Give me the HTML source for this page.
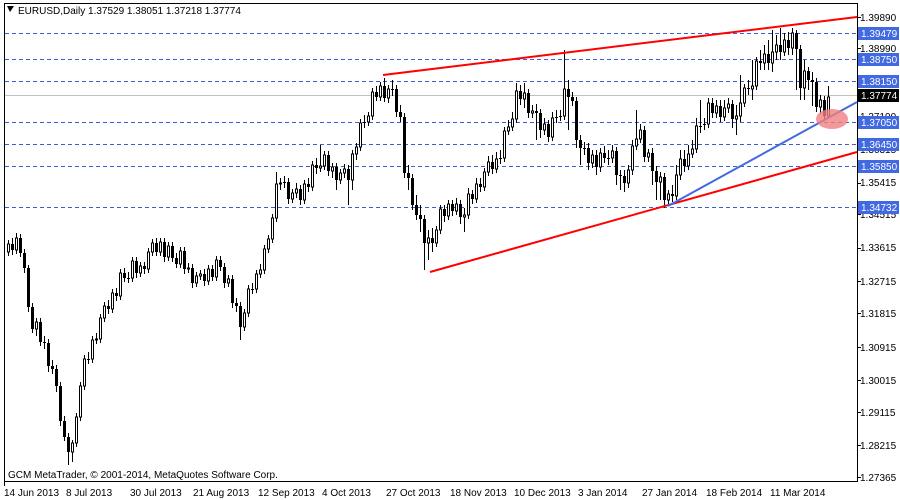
<!DOCTYPE html>
<html><head><meta charset="utf-8"><style>
html,body{margin:0;padding:0;background:#fff;}
svg{display:block;font-family:"Liberation Sans",Tahoma,sans-serif;}
</style></head><body>
<svg width="900" height="500" xmlns="http://www.w3.org/2000/svg">
<rect x="0" y="0" width="900" height="500" fill="#fff"/>
<rect x="4.5" y="3.5" width="853" height="478" fill="none" stroke="#000" stroke-width="1"/>
<g stroke="#3a5fd9" stroke-width="1" stroke-dasharray="4,3">
<line x1="5" x2="857" y1="33.5" y2="33.5"/>
<line x1="5" x2="857" y1="59.5" y2="59.5"/>
<line x1="5" x2="857" y1="81.5" y2="81.5"/>
<line x1="5" x2="857" y1="122.5" y2="122.5"/>
<line x1="5" x2="857" y1="144.5" y2="144.5"/>
<line x1="5" x2="857" y1="166.5" y2="166.5"/>
<line x1="5" x2="857" y1="207.5" y2="207.5"/>
</g>
<line x1="5" x2="857" y1="95.5" y2="95.5" stroke="#c0c0c0"/>
<path stroke="#000" stroke-width="1" fill="none" d="M8.5 240V256M12.5 238V255M16.5 233V254M20.5 234V257M24.5 249V273M28.5 265V312M32.5 303V333M36.5 318V336M40.5 318V346M44.5 336V349M48.5 339V372M52.5 360V374M56.5 365V392M60.5 382V426M64.5 416V441M68.5 433V465M72.5 440V462M76.5 413V447M80.5 382V421M84.5 355V390M88.5 352V364M92.5 336V363M96.5 333V344M100.5 314V343M104.5 302V322M108.5 300V314M112.5 289V313M116.5 288V301M120.5 269V300M124.5 268V282M128.5 272V283M132.5 257V282M136.5 257V278M140.5 262V277M144.5 262V274M148.5 248V273M152.5 239V256M156.5 238V256M160.5 238V256M164.5 238V262M168.5 242V261M172.5 242V262M176.5 253V268M180.5 247V268M184.5 247V274M188.5 263V273M192.5 264V288M196.5 272V287M200.5 270V280M204.5 269V286M208.5 265V285M212.5 265V281M216.5 256V281M220.5 256V271M224.5 263V288M228.5 275V287M232.5 275V308M236.5 298V312M240.5 302V340M244.5 309V331M248.5 285V317M252.5 283V294M256.5 270V293M260.5 264V278M264.5 245V274M268.5 235V253M272.5 214V243M276.5 172V222M280.5 178V190M284.5 176V188M288.5 178V204M292.5 189V203M296.5 183V198M300.5 185V205M304.5 180V204M308.5 178V192M312.5 161V191M316.5 158V174M320.5 145V172M324.5 151V170M328.5 151V176M332.5 163V178M336.5 163V190M340.5 169V184M344.5 164V178M348.5 165V205M352.5 150V190M356.5 143V160M360.5 119V151M364.5 115V128M368.5 112V126M372.5 88V120M376.5 86V101M380.5 82V101M384.5 78V102M388.5 85V103M392.5 80V96M396.5 85V117M400.5 105V122M404.5 113V178M408.5 165V190M412.5 174V210M416.5 195V220M420.5 205V232M424.5 215V270M428.5 230V260M432.5 228V252M436.5 226V247M440.5 205V234M444.5 205V222M448.5 200V220M452.5 200V216M456.5 198V215M460.5 200V224M464.5 208V232M468.5 188V219M472.5 190V204M476.5 178V203M480.5 178V192M484.5 168V191M488.5 156V176M492.5 155V174M496.5 152V173M500.5 150V164M504.5 127V162M508.5 120V135M512.5 112V131M516.5 83V123M520.5 85V105M524.5 83V108M528.5 89V118M532.5 105V118M536.5 104V140M540.5 109V138M544.5 118V135M548.5 120V142M552.5 112V141M556.5 110V123M560.5 110V121M564.5 50V120M568.5 80V130M572.5 92V106M576.5 97V148M580.5 135V165M584.5 142V155M588.5 143V170M592.5 150V168M596.5 150V175M600.5 148V172M604.5 146V163M608.5 150V165M612.5 145V163M616.5 147V185M620.5 170V190M624.5 170V192M628.5 165V188M632.5 140V175M636.5 110V150M640.5 124V143M644.5 126V162M648.5 149V162M652.5 148V185M656.5 166V200M660.5 172V200M664.5 173V208M668.5 190V206M672.5 185V202M676.5 165V200M680.5 150V180M684.5 150V172M688.5 145V170M692.5 140V158M696.5 118V153M700.5 100V133M704.5 118V130M708.5 98V128M712.5 98V118M716.5 100V118M720.5 100V122M724.5 100V121M728.5 98V113M732.5 100V128M736.5 105V135M740.5 75V122M744.5 84V107M748.5 80V95M752.5 60V100M756.5 57V90M760.5 50V70M764.5 45V70M768.5 40V70M772.5 30V72M776.5 35V60M780.5 28V60M784.5 33V56M788.5 32V55M792.5 28V55M796.5 30V90M800.5 45V100M804.5 60V100M808.5 67V90M812.5 72V106M816.5 78V112M820.5 95V114M824.5 96V120M828.5 86V118"/>
<path fill="#000" d="M11 244h3v6h-3zM19 238h3v15h-3zM23 253h3v15h-3zM27 268h3v39h-3zM31 307h3v22h-3zM39 322h3v20h-3zM43 342h3v1h-3zM47 343h3v23h-3zM51 366h3v3h-3zM55 369h3v17h-3zM59 386h3v35h-3zM63 421h3v16h-3zM67 437h3v15h-3zM87 359h3v1h-3zM107 306h3v3h-3zM115 293h3v3h-3zM123 273h3v5h-3zM127 278h3v1h-3zM135 261h3v12h-3zM143 266h3v3h-3zM155 243h3v9h-3zM163 242h3v15h-3zM171 246h3v12h-3zM175 258h3v6h-3zM183 251h3v18h-3zM191 268h3v15h-3zM203 274h3v7h-3zM211 269h3v8h-3zM219 260h3v7h-3zM223 267h3v16h-3zM231 279h3v24h-3zM235 303h3v3h-3zM239 306h3v21h-3zM251 289h3v1h-3zM283 182h3v1h-3zM287 182h3v17h-3zM299 189h3v11h-3zM307 184h3v3h-3zM315 165h3v3h-3zM327 155h3v16h-3zM335 167h3v13h-3zM347 169h3v11h-3zM363 122h3v1h-3zM375 92h3v5h-3zM383 86h3v12h-3zM391 89h3v1h-3zM395 89h3v23h-3zM399 112h3v5h-3zM403 117h3v56h-3zM407 173h3v5h-3zM411 178h3v27h-3zM415 205h3v10h-3zM419 215h3v4h-3zM423 219h3v24h-3zM431 238h3v5h-3zM443 209h3v7h-3zM451 204h3v7h-3zM459 204h3v13h-3zM471 194h3v5h-3zM479 184h3v3h-3zM491 162h3v7h-3zM499 158h3v1h-3zM519 91h3v8h-3zM527 93h3v20h-3zM535 111h3v2h-3zM539 113h3v17h-3zM547 124h3v13h-3zM555 117h3v1h-3zM559 116h3v1h-3zM567 89h3v8h-3zM571 97h3v4h-3zM575 101h3v39h-3zM579 140h3v8h-3zM583 148h3v1h-3zM587 148h3v15h-3zM595 155h3v12h-3zM603 153h3v5h-3zM607 158h3v1h-3zM615 151h3v24h-3zM619 175h3v1h-3zM623 176h3v7h-3zM643 130h3v27h-3zM651 153h3v18h-3zM655 171h3v11h-3zM663 177h3v23h-3zM671 194h3v2h-3zM683 159h3v7h-3zM699 126h3v1h-3zM703 124h3v1h-3zM711 103h3v10h-3zM719 106h3v11h-3zM731 104h3v15h-3zM747 88h3v1h-3zM759 61h3v2h-3zM767 54h3v9h-3zM779 45h3v7h-3zM787 40h3v8h-3zM795 33h3v16h-3zM799 49h3v39h-3zM807 71h3v9h-3zM811 80h3v2h-3zM815 82h3v25h-3zM823 100h3v16h-3z"/>
<path fill="#fff" stroke="#000" stroke-width="1" d="M7.5 244h2v8h-2zM15.5 238h2v12h-2zM35.5 322h2v7h-2zM71.5 443h2v9h-2zM75.5 417h2v26h-2zM79.5 386h2v31h-2zM83.5 359h2v27h-2zM91.5 340h2v19h-2zM95.5 339h2v1h-2zM99.5 318h2v21h-2zM103.5 306h2v12h-2zM111.5 293h2v16h-2zM119.5 273h2v23h-2zM131.5 261h2v17h-2zM139.5 266h2v7h-2zM147.5 252h2v17h-2zM151.5 243h2v9h-2zM159.5 242h2v10h-2zM167.5 246h2v11h-2zM179.5 251h2v13h-2zM187.5 268h2v1h-2zM195.5 276h2v7h-2zM199.5 274h2v2h-2zM207.5 269h2v12h-2zM215.5 260h2v17h-2zM227.5 279h2v4h-2zM243.5 313h2v14h-2zM247.5 289h2v24h-2zM255.5 274h2v15h-2zM259.5 270h2v4h-2zM263.5 249h2v21h-2zM267.5 239h2v10h-2zM271.5 218h2v21h-2zM275.5 184h2v34h-2zM279.5 183h2v1h-2zM291.5 193h2v6h-2zM295.5 189h2v4h-2zM303.5 184h2v16h-2zM311.5 165h2v22h-2zM319.5 166h2v2h-2zM323.5 155h2v11h-2zM331.5 167h2v4h-2zM339.5 173h2v7h-2zM343.5 169h2v4h-2zM351.5 154h2v26h-2zM355.5 147h2v7h-2zM359.5 123h2v24h-2zM367.5 116h2v6h-2zM371.5 92h2v24h-2zM379.5 86h2v11h-2zM387.5 89h2v9h-2zM427.5 238h2v5h-2zM435.5 230h2v13h-2zM439.5 209h2v21h-2zM447.5 204h2v12h-2zM455.5 204h2v7h-2zM463.5 215h2v2h-2zM467.5 194h2v21h-2zM475.5 184h2v15h-2zM483.5 172h2v15h-2zM487.5 162h2v10h-2zM495.5 159h2v10h-2zM503.5 131h2v27h-2zM507.5 127h2v4h-2zM511.5 119h2v8h-2zM515.5 91h2v28h-2zM523.5 93h2v6h-2zM531.5 111h2v2h-2zM543.5 124h2v6h-2zM551.5 118h2v19h-2zM563.5 89h2v27h-2zM591.5 155h2v8h-2zM599.5 153h2v14h-2zM611.5 151h2v7h-2zM627.5 170h2v13h-2zM631.5 146h2v24h-2zM635.5 139h2v7h-2zM639.5 130h2v9h-2zM647.5 153h2v4h-2zM659.5 177h2v5h-2zM667.5 194h2v6h-2zM675.5 175h2v21h-2zM679.5 159h2v16h-2zM687.5 154h2v12h-2zM691.5 149h2v5h-2zM695.5 126h2v23h-2zM707.5 103h2v21h-2zM715.5 106h2v7h-2zM723.5 108h2v9h-2zM727.5 104h2v4h-2zM735.5 116h2v3h-2zM739.5 103h2v13h-2zM743.5 88h2v15h-2zM751.5 86h2v3h-2zM755.5 61h2v25h-2zM763.5 54h2v9h-2zM771.5 52h2v11h-2zM775.5 45h2v7h-2zM783.5 40h2v12h-2zM791.5 33h2v15h-2zM803.5 71h2v17h-2zM819.5 100h2v7h-2zM827.5 97h2v19h-2z"/>
<line x1="383" y1="75" x2="857" y2="17" stroke="#ff0000" stroke-width="2"/>
<line x1="430" y1="272" x2="857" y2="152" stroke="#ff0000" stroke-width="2"/>
<line x1="668" y1="206" x2="857" y2="102" stroke="#4169e1" stroke-width="2"/>
<ellipse cx="832" cy="119" rx="16" ry="10" fill="#f08080" opacity="0.8"/>
<g font-size="10" fill="#000">
<text x="860" y="21">1.39890</text>
<text x="860" y="52">1.38990</text>
<text x="860" y="87">1.38090</text>
<text x="860" y="120">1.37190</text>
<text x="860" y="153">1.36315</text>
<text x="860" y="186">1.35415</text>
<text x="860" y="218">1.34515</text>
<text x="860" y="251">1.33615</text>
<text x="860" y="285">1.32715</text>
<text x="860" y="317">1.31815</text>
<text x="860" y="351">1.30915</text>
<text x="860" y="384">1.30015</text>
<text x="860" y="416">1.29115</text>
<text x="860" y="449">1.28215</text>
<text x="860" y="481">1.27365</text>
</g>
<g stroke="#000">
<line x1="857" x2="861" y1="17.5" y2="17.5"/><line x1="857" x2="861" y1="48.5" y2="48.5"/>
<line x1="857" x2="861" y1="183.5" y2="183.5"/><line x1="857" x2="861" y1="214.5" y2="214.5"/>
<line x1="857" x2="861" y1="248.5" y2="248.5"/><line x1="857" x2="861" y1="281.5" y2="281.5"/>
<line x1="857" x2="861" y1="313.5" y2="313.5"/><line x1="857" x2="861" y1="347.5" y2="347.5"/>
<line x1="857" x2="861" y1="380.5" y2="380.5"/><line x1="857" x2="861" y1="412.5" y2="412.5"/>
<line x1="857" x2="861" y1="445.5" y2="445.5"/><line x1="857" x2="861" y1="477.5" y2="477.5"/>
</g>
<g font-size="10" fill="#fff">
<rect x="858" y="27" width="41" height="13" fill="#4169e1"/><text x="861" y="37">1.39479</text>
<rect x="858" y="53" width="41" height="13" fill="#4169e1"/><text x="861" y="63">1.38750</text>
<rect x="858" y="75" width="41" height="13" fill="#4169e1"/><text x="861" y="85">1.38150</text>
<rect x="858" y="89" width="41" height="13" fill="#000"/><text x="861" y="99">1.37774</text>
<rect x="858" y="116" width="41" height="13" fill="#4169e1"/><text x="861" y="126">1.37050</text>
<rect x="858" y="138" width="41" height="13" fill="#4169e1"/><text x="861" y="148">1.36450</text>
<rect x="858" y="160" width="41" height="13" fill="#4169e1"/><text x="861" y="170">1.35850</text>
<rect x="858" y="201" width="41" height="13" fill="#4169e1"/><text x="861" y="211">1.34732</text>
</g>
<g font-size="10" fill="#000">
<text x="4" y="496">14 Jun 2013</text>
<text x="66" y="496">8 Jul 2013</text>
<text x="130" y="496">30 Jul 2013</text>
<text x="193" y="496">21 Aug 2013</text>
<text x="258" y="496">12 Sep 2013</text>
<text x="322" y="496">4 Oct 2013</text>
<text x="386" y="496">27 Oct 2013</text>
<text x="450" y="496">18 Nov 2013</text>
<text x="514" y="496">10 Dec 2013</text>
<text x="578" y="496">3 Jan 2014</text>
<text x="642" y="496">27 Jan 2014</text>
<text x="706" y="496">18 Feb 2014</text>
<text x="770" y="496">11 Mar 2014</text>
<text x="18" y="14">EURUSD,Daily  1.37529 1.38051 1.37218 1.37774</text>
<text x="8" y="478">GCM MetaTrader, © 2001-2014, MetaQuotes Software Corp.</text>
</g>
<line x1="4.5" x2="4.5" y1="482" y2="486" stroke="#000"/>
<path d="M7 6 L14 6 L10 12 Z" fill="#000"/>
</svg>
</body></html>
